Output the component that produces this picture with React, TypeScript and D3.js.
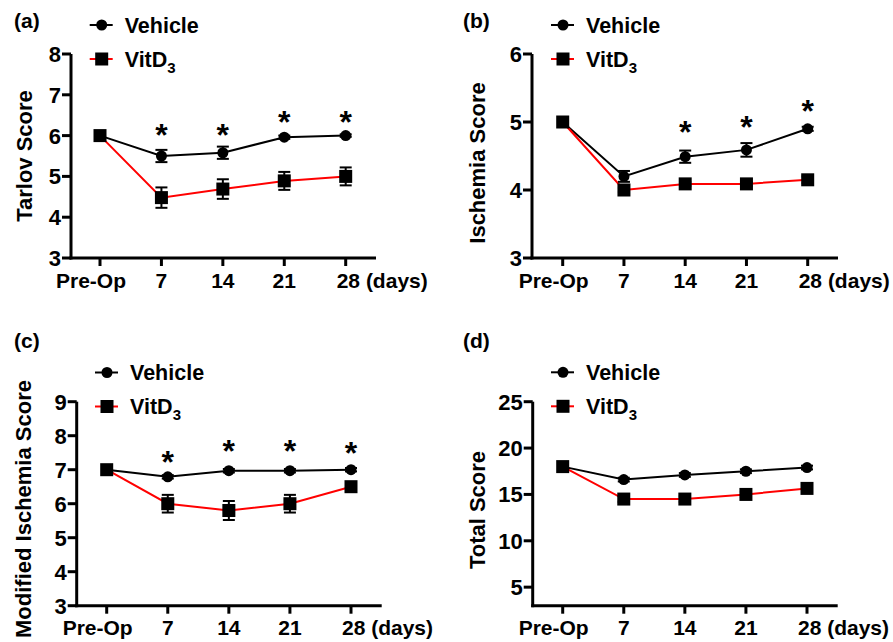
import * as d3 from "d3";

const days = ["Pre-Op", "7", "14", "21", "28"];

// (a) Tarlov score
const tarlovVehicle = [6.0, 5.5, 5.58, 5.96, 6.0];
const tarlovVehicleErr = [0, 0.15, 0.15, 0.04, 0.03];
const tarlovVitD = [6.0, 4.48, 4.69, 4.89, 5.0];
const tarlovVitDErr = [0, 0.25, 0.24, 0.22, 0.22];
const tarlovStars = [null, 6.19, 6.19, 6.5, 6.5];

// (b) Ischemia score
const ischVehicle = [5.0, 4.2, 4.49, 4.59, 4.9];
const ischVehicleErr = [0, 0.08, 0.09, 0.1, 0.03];
const ischVitD = [5.0, 4.0, 4.09, 4.09, 4.15];
const ischVitDErr = [0, 0.03, 0.03, 0.03, 0.05];
const ischStars = [null, null, 4.96, 5.03, 5.26];

// (c) Modified ischemia score
const modVehicle = [7.0, 6.79, 6.97, 6.97, 7.0];
const modVehicleErr = [0, 0.05, 0.05, 0.05, 0.05];
const modVitD = [7.0, 6.0, 5.8, 6.0, 6.5];
const modVitDErr = [0, 0.26, 0.28, 0.26, 0.13];
const modStars = [null, 7.43, 7.76, 7.76, 7.7];

// (d) Total score
const totalVehicle = [18.0, 16.6, 17.1, 17.5, 17.9];
const totalVehicleErr = [0, 0.2, 0.2, 0.2, 0.2];
const totalVitD = [18.0, 14.5, 14.5, 15.0, 15.65];
const totalVitDErr = [0, 0.3, 0.3, 0.3, 0.3];
const totalStars = [null, null, null, null, null];

const FONT = "'Liberation Sans', Arial, Helvetica, sans-serif";
const RED = "#ff0000";

type PanelProps = {
  tag: string;
  title: string;
  axisX: number;
  top: number;
  bottom: number;
  xRange: [number, number];
  axisEnd: number;
  domain: [number, number];
  ticks: number[];
  titleX: number;
  titleY: number;
  legendX: number;
  legendY: number;
  tagX: number;
  tagY: number;
  veh: number[];
  vehErr: number[];
  vit: number[];
  vitErr: number[];
  stars: (number | null)[];
};

function Panel(p: PanelProps) {
  const x = d3.scalePoint<string>().domain(days).range(p.xRange);
  const y = d3.scaleLinear().domain(p.domain).range([p.bottom, p.top]);
  const line = d3
    .line<number>()
    .x((_, i) => x(days[i]) as number)
    .y((d) => y(d));

  const errBars = (vals: number[], errs: number[], key: string) =>
    vals.map((v, i) => {
      const cx = x(days[i]) as number;
      const e = errs[i];
      if (!e) return null;
      return (
        <g key={key + i} stroke="#000" strokeWidth={2}>
          <line x1={cx} x2={cx} y1={y(v - e)} y2={y(v + e)} />
          <line x1={cx - 6} x2={cx + 6} y1={y(v - e)} y2={y(v - e)} />
          <line x1={cx - 6} x2={cx + 6} y1={y(v + e)} y2={y(v + e)} />
        </g>
      );
    });

  return (
    <g fontFamily={FONT} fontWeight="bold">
      <text x={p.tagX} y={p.tagY} fontSize={21}>
        {p.tag}
      </text>

      {/* axes */}
      <line x1={p.axisX} x2={p.axisX} y1={p.top} y2={p.bottom + 1.5} stroke="#000" strokeWidth={3} />
      <line x1={p.axisX - 1.5} x2={p.axisEnd} y1={p.bottom} y2={p.bottom} stroke="#000" strokeWidth={3} />
      {p.ticks.map((t) => (
        <g key={"yt" + t}>
          <line x1={p.axisX - 9} x2={p.axisX} y1={y(t)} y2={y(t)} stroke="#000" strokeWidth={3} />
          <text x={p.axisX - 10} y={y(t)} dy="0.36em" textAnchor="end" fontSize={22}>
            {t}
          </text>
        </g>
      ))}
      {days.map((d, i) => {
        const cx = x(d) as number;
        return (
          <g key={"xt" + d}>
            <line x1={cx} x2={cx} y1={p.bottom} y2={p.bottom + 8} stroke="#000" strokeWidth={3} />
            {i === 0 && (
              <text x={cx - 9} y={p.bottom + 29.5} textAnchor="middle" fontSize={21}>
                {d}
              </text>
            )}
            {i > 0 && i < 4 && (
              <text x={cx} y={p.bottom + 29.5} textAnchor="middle" fontSize={21}>
                {d}
              </text>
            )}
            {i === 4 && (
              <text x={cx - 9} y={p.bottom + 29.5} textAnchor="start" fontSize={21}>
                {d + " (days)"}
              </text>
            )}
          </g>
        );
      })}
      <text
        transform={`translate(${p.titleX},${p.titleY}) rotate(-90)`}
        textAnchor="middle"
        fontSize={22}
      >
        {p.title}
      </text>

      {/* series */}
      <path d={line(p.veh) ?? ""} fill="none" stroke="#000" strokeWidth={2} />
      <path d={line(p.vit) ?? ""} fill="none" stroke={RED} strokeWidth={2} />
      {errBars(p.veh, p.vehErr, "ve")}
      {errBars(p.vit, p.vitErr, "vi")}
      {p.veh.map((v, i) => (
        <circle key={"c" + i} cx={x(days[i]) as number} cy={y(v)} r={5.5} fill="#000" />
      ))}
      {p.vit.map((v, i) => (
        <rect key={"s" + i} x={(x(days[i]) as number) - 6.5} y={y(v) - 6.5} width={13} height={13} fill="#000" />
      ))}
      {p.stars.map((s, i) =>
        s == null ? null : (
          <text key={"st" + i} x={x(days[i]) as number} y={y(s) + 18} textAnchor="middle" fontSize={32}>
            *
          </text>
        )
      )}

      {/* legend */}
      <line x1={p.legendX - 12} x2={p.legendX + 11} y1={p.legendY} y2={p.legendY} stroke="#000" strokeWidth={2} />
      <circle cx={p.legendX} cy={p.legendY} r={5.5} fill="#000" />
      <text x={p.legendX + 23} y={p.legendY + 7.5} fontSize={21.5}>
        Vehicle
      </text>
      <line x1={p.legendX - 12} x2={p.legendX + 11} y1={p.legendY + 34} y2={p.legendY + 34} stroke={RED} strokeWidth={2} />
      <rect x={p.legendX - 6.5} y={p.legendY + 27.5} width={13} height={13} fill="#000" />
      <text x={p.legendX + 23} y={p.legendY + 41.5} fontSize={21.5}>
        VitD
        <tspan fontSize={15} dy={6}>
          3
        </tspan>
      </text>
    </g>
  );
}

export default function App() {
  return (
    <svg
      width={893}
      height={642}
      style={{ position: "absolute", left: 0, top: 0, background: "#fff" }}
    >
      <rect width={893} height={642} fill="#fff" />
      <Panel
        tag="(a)"
        title="Tarlov Score"
        axisX={71}
        top={54}
        bottom={258}
        xRange={[100, 345.7]}
        axisEnd={376}
        domain={[3, 8]}
        ticks={[3, 4, 5, 6, 7, 8]}
        titleX={32}
        titleY={156}
        legendX={101.7}
        legendY={25}
        tagX={14}
        tagY={28}
        veh={tarlovVehicle}
        vehErr={tarlovVehicleErr}
        vit={tarlovVitD}
        vitErr={tarlovVitDErr}
        stars={tarlovStars}
      />
      <Panel
        tag="(b)"
        title="Ischemia Score"
        axisX={532}
        top={54}
        bottom={258}
        xRange={[562.7, 807.7]}
        axisEnd={838}
        domain={[3, 6]}
        ticks={[3, 4, 5, 6]}
        titleX={485}
        titleY={163}
        legendX={563}
        legendY={25}
        tagX={463}
        tagY={28}
        veh={ischVehicle}
        vehErr={ischVehicleErr}
        vit={ischVitD}
        vitErr={ischVitDErr}
        stars={ischStars}
      />
      <Panel
        tag="(c)"
        title="Modified Ischemia Score"
        axisX={76.7}
        top={401.7}
        bottom={605.7}
        xRange={[106.7, 351]}
        axisEnd={381.7}
        domain={[3, 9]}
        ticks={[3, 4, 5, 6, 7, 8, 9]}
        titleX={31}
        titleY={509}
        legendX={107}
        legendY={372.5}
        tagX={14}
        tagY={348}
        veh={modVehicle}
        vehErr={modVehicleErr}
        vit={modVitD}
        vitErr={modVitDErr}
        stars={modStars}
      />
      <Panel
        tag="(d)"
        title="Total Score"
        axisX={532.7}
        top={401.7}
        bottom={605.7}
        xRange={[562.7, 807]}
        axisEnd={837.7}
        domain={[3, 25]}
        ticks={[5, 10, 15, 20, 25]}
        titleX={485}
        titleY={510}
        legendX={563}
        legendY={372.3}
        tagX={463}
        tagY={348}
        veh={totalVehicle}
        vehErr={totalVehicleErr}
        vit={totalVitD}
        vitErr={totalVitDErr}
        stars={totalStars}
      />
    </svg>
  );
}
